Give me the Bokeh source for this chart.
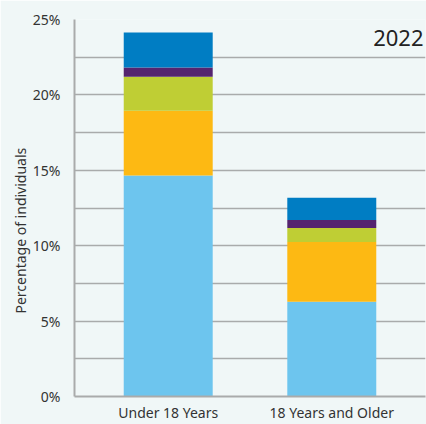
from bokeh.plotting import figure
from bokeh.models import FactorRange, Range1d, FixedTicker, Label, Title, ColumnDataSource
from bokeh.embed import file_html
from bokeh.resources import INLINE

categories = ["Under 18 Years", "18 Years and Older"]
seg1 = [14.66, 6.29]   # light blue
seg2 = [4.29, 3.96]    # orange
seg3 = [2.26, 0.93]    # green
seg4 = [0.60, 0.53]    # purple
seg5 = [2.33, 1.47]    # dark blue
series = ["s1", "s2", "s3", "s4", "s5"]
colors = ["#6DC5EE", "#FDB913", "#BFCE34", "#55246F", "#007DC3"]
y_ticks = [0, 5, 10, 15, 20, 25]
grid_ticks = [0, 2.5, 5, 7.5, 10, 12.5, 15, 17.5, 20, 22.5, 25]
year = "2022"
y_title = "Percentage of individuals"

FONT = "Noto Sans"
BG = "#F0F7F7"

src = ColumnDataSource(dict(cat=categories, s1=seg1, s2=seg2, s3=seg3, s4=seg4, s5=seg5))

p = figure(width=426, height=424,
           x_range=FactorRange(*categories, range_padding=0.073, range_padding_units="absolute"),
           y_range=Range1d(0, 25),
           output_backend="svg", toolbar_location=None,
           min_border_left=74, min_border_right=1, min_border_top=19, min_border_bottom=28)
p.background_fill_color = BG
p.border_fill_color = BG
p.outline_line_color = None

p.vbar_stack(series, x="cat", width=0.544, color=colors, source=src, line_color=None)

p.xgrid.grid_line_color = None
p.ygrid.ticker = FixedTicker(ticks=grid_ticks)
p.ygrid.grid_line_color = "#A9ABAB"
p.ygrid.grid_line_width = 1.5

p.yaxis.ticker = FixedTicker(ticks=y_ticks)
p.yaxis.major_label_overrides = {t: f"{t}%" for t in y_ticks}
p.yaxis.axis_line_color = "#A9ABAB"
p.yaxis.axis_line_width = 2
p.yaxis.major_tick_line_color = None
p.yaxis.minor_tick_line_color = None
p.yaxis.major_label_standoff = 8
p.yaxis.major_label_text_font = FONT
p.yaxis.major_label_text_font_size = "14px"
p.yaxis.major_label_text_color = "#333333"

p.xaxis.axis_line_color = "#A9ABAB"
p.xaxis.axis_line_width = 2
p.xaxis.major_tick_line_color = None
p.xaxis.minor_tick_line_color = None
p.xaxis.major_label_standoff = 0
p.xaxis.major_label_text_font = FONT
p.xaxis.major_label_text_font_size = "14px"
p.xaxis.major_label_text_line_height = 1.0
p.xaxis.major_label_text_color = "#333333"

ytitle = Title(text=y_title, align="left", offset=83, standoff=0,
               text_font=FONT, text_font_size="14px", text_font_style="normal",
               text_color="#333333")
p.add_layout(ytitle, "left")

lbl = Label(x=349, y=23.75, x_units="screen", y_units="data", text=year,
            text_font=FONT, text_font_size="22px", text_color="#222222",
            text_align="right", text_baseline="middle")
p.add_layout(lbl)

open("out.html", "w").write(file_html(p, INLINE))
